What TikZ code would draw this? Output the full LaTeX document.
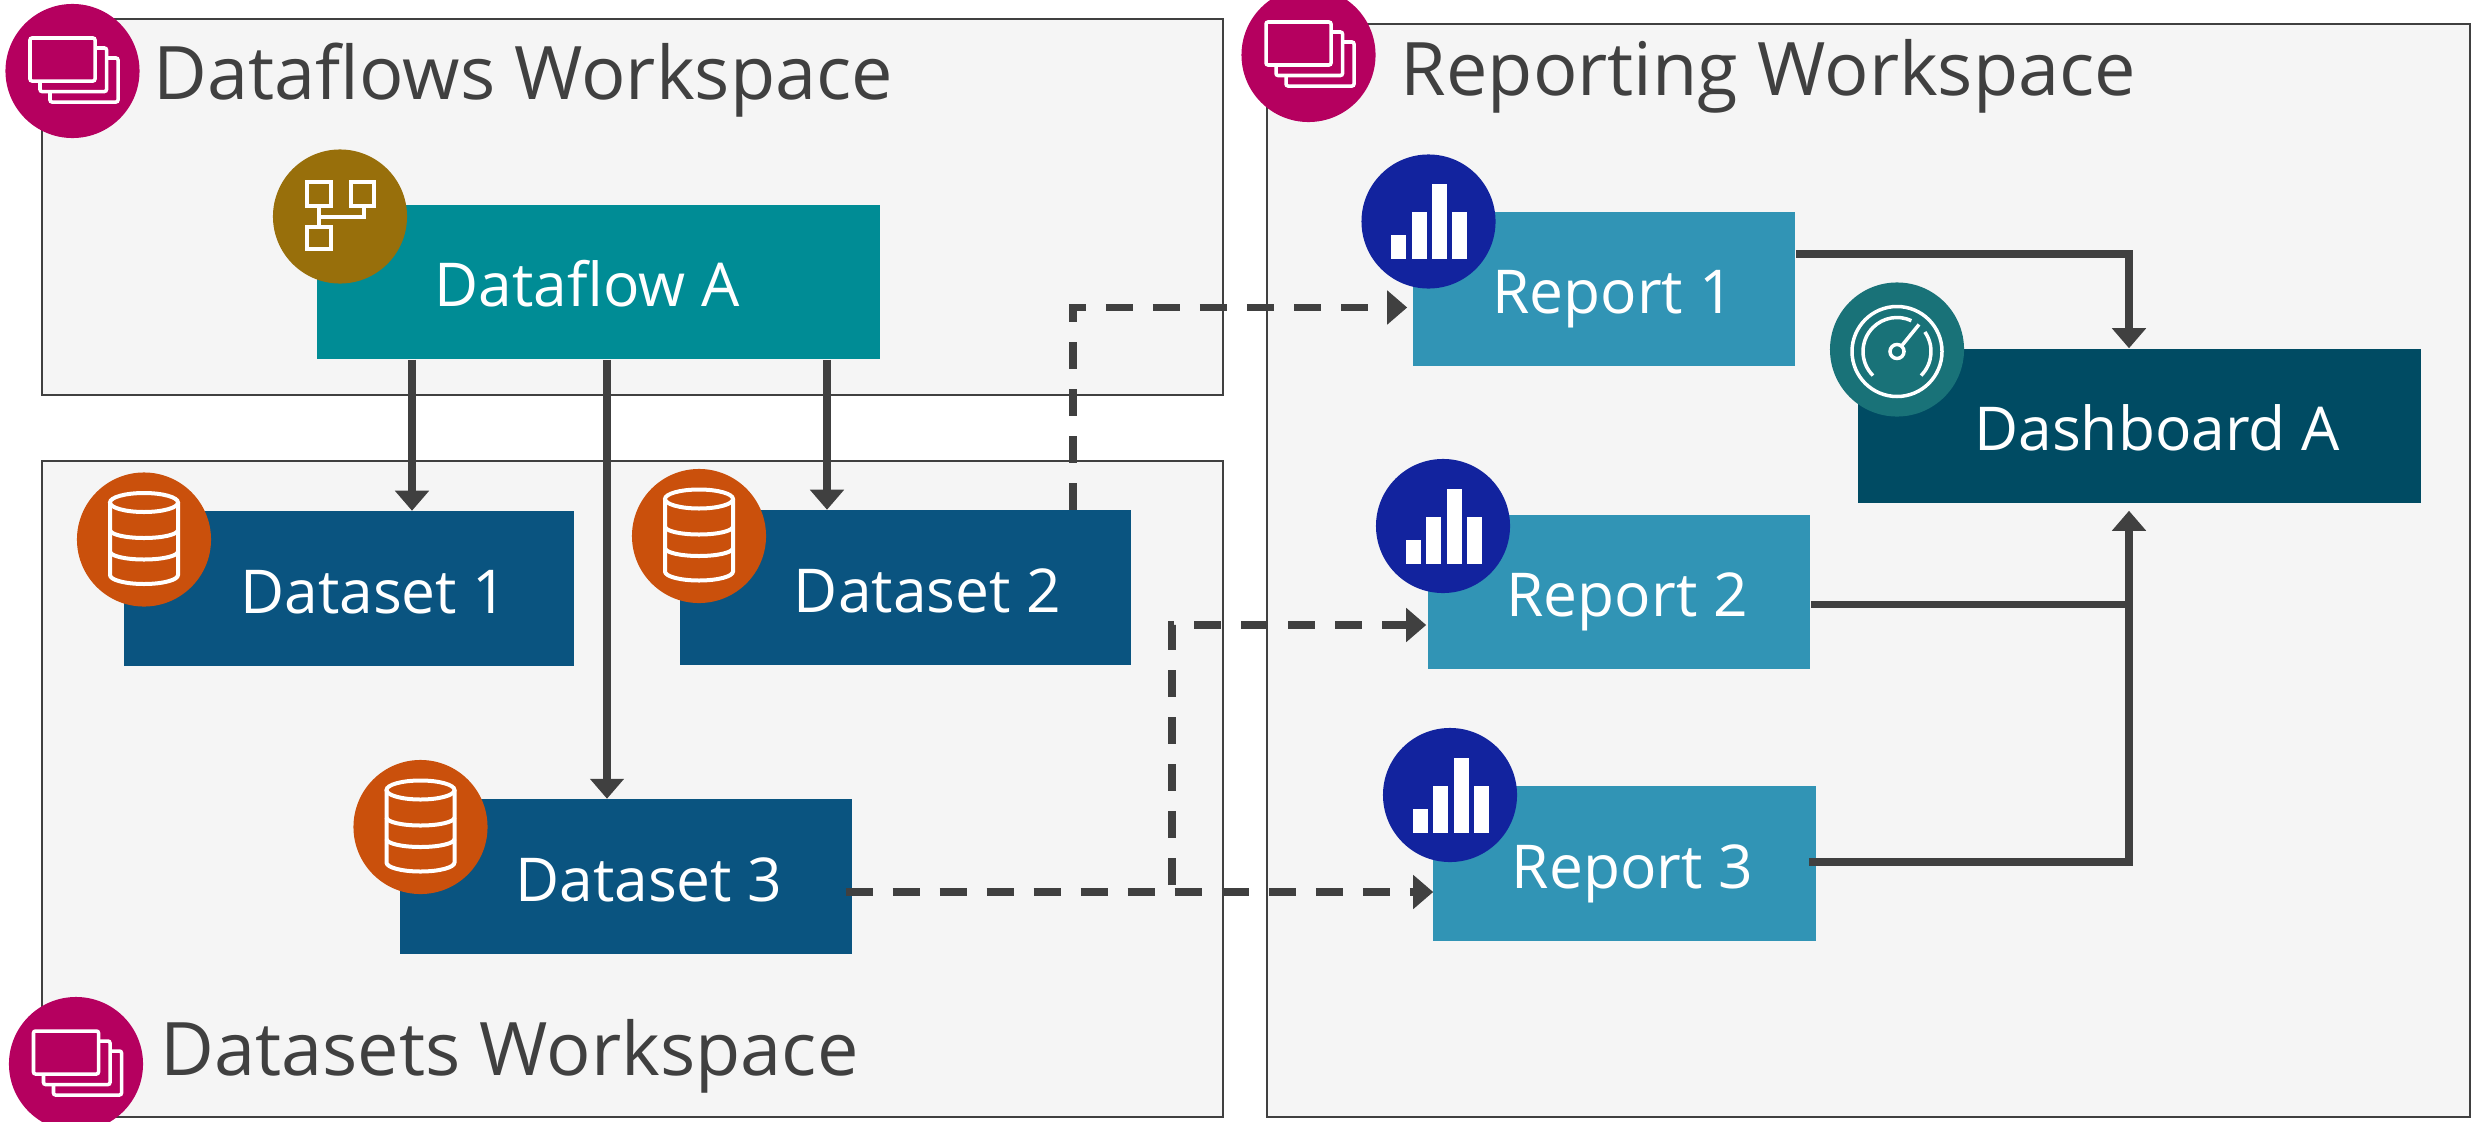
\documentclass[tikz,border=0pt]{standalone}
\usepackage{fontspec}
\setmainfont{Open Sans}
\usetikzlibrary{arrows.meta}
\definecolor{framefill}{HTML}{F5F5F5}
\definecolor{inkgrey}{HTML}{404040}
\definecolor{wscolor}{HTML}{B5005F}
\definecolor{dfcolor}{HTML}{008C95}
\definecolor{dficon}{HTML}{986F0B}
\definecolor{dscolor}{HTML}{0A5480}
\definecolor{dsicon}{HTML}{CA500C}
\definecolor{rpcolor}{HTML}{3194B5}
\definecolor{rpicon}{HTML}{12239E}
\definecolor{dbcolor}{HTML}{004B63}
\definecolor{dbicon}{HTML}{197278}
\tikzset{
  wsframe/.style={draw=inkgrey, fill=framefill, line width=0.02cm, inner sep=0},
  wstitle/.style={anchor=base west, inner sep=0, text=inkgrey, font=\fontsize{21}{26}\selectfont},
  card/.style={inner sep=0, minimum width=#1, minimum height=1.54cm, text=white,
    text height=14pt, text depth=0pt, font=\fontsize{17.2}{21}\selectfont},
  badge/.style={circle, inner sep=0, minimum size=1.34cm},
  flow/.style={draw=inkgrey, line width=0.072cm},
  flowarrow/.style={flow, -{Triangle[length=0.2cm, width=0.33cm]}},
  feed/.style={flowarrow, dash pattern=on 0.27cm off 0.2cm},
  glyph/.style={draw=white, line width=0.035cm},
  pics/stackicon/.style={code={
    \foreach \d in {20,10,0}
      \draw[glyph, fill=wscolor, rounded corners=0.02cm] (-42.5+\d,-33+\d) rectangle (22.5+\d+\d*0.15,10+\d+\d*0.05);
  }},
  pics/flowicon/.style={code={
    \draw[glyph] (-33,-34.5) rectangle (-9,-10.5);
    \draw[glyph] (11,-34.5) rectangle (34,-10.5);
    \draw[glyph] (-33,10.5) rectangle (-9,32.5);
    \draw[glyph] (-21,-10.5) -- (-21,10.5);
    \draw[glyph] (-21,0.5) -- (24,0.5) -- (24,-10.5);
  }},
  pics/stackdb/.style={code={
    \draw[glyph, line width=0.04cm] (0,-37) ellipse (34 and 9.5);
    \draw[glyph, line width=0.04cm] (-34,-37) -- (-34,35.5) arc[start angle=180, end angle=0, x radius=34, y radius=9] -- (34,-37);
    \draw[glyph, line width=0.04cm] (-34,-9.5) arc[start angle=180, end angle=0, x radius=34, y radius=8];
    \draw[glyph, line width=0.04cm] (-34,12) arc[start angle=180, end angle=0, x radius=34, y radius=8];
  }},
  pics/baricon/.style={code={
    \foreach \l/\t in {-37.5/13.5,-17/-9.5,3.5/-37.5,23.5/-9.5}
      \fill[white] (\l,\t) rectangle (\l+15,37.5);
  }},
  pics/gaugeicon/.style={code={
    \draw[glyph] (0,2) circle (45);
    \draw[glyph] (-225:34) ++(0,2) arc[start angle=-225, end angle=-65, radius=34];
    \draw[glyph] (-35:34) ++(0,2) arc[start angle=-35, end angle=45, radius=34];
    \draw[glyph] (0,2) circle (7);
    \draw[glyph] (4.5,-3.5) -- (22,-25);
  }}
}
\begin{document}
\begin{tikzpicture}[x=0.01cm, y=-0.01cm]
    \useasboundingbox (0,0) rectangle (2479,1121);
    \clip (0,0) rectangle (2479,1121);

    % workspaces
    \node[wsframe, minimum width=11.81cm, minimum height=3.76cm] (dataflows) at (632.5,207) {};
    \node[wsframe, minimum width=11.81cm, minimum height=6.56cm] (datasets) at (632.5,789) {};
    \node[wsframe, minimum width=12.03cm, minimum height=10.93cm] (reporting) at (1868.5,570.5) {};

    \node[wstitle] (dataflowstitle) at (153,99) {Dataflows Workspace};
    \node[wstitle] (reportingtitle) at (1400,95) {Reporting Workspace};
    \node[wstitle] (datasetstitle) at (160,1075) {Datasets Workspace};

    % cards
    \node[card=5.63cm, fill=dfcolor] (dataflow) at (598.5,282) {\hspace*{-0.23cm}Dataflow A};
    \node[card=4.5cm, fill=dscolor] (dataset1) at (349,588.5) {\hspace*{0.5cm}Dataset 1};
    \node[card=4.51cm, fill=dscolor] (dataset2) at (905.5,587.5) {\hspace*{0.44cm}Dataset 2};
    \node[card=4.52cm, fill=dscolor] (dataset3) at (626,876.5) {\hspace*{0.46cm}Dataset 3};
    \node[card=3.82cm, fill=rpcolor] (report1) at (1604,289) {\hspace*{0.18cm}Report 1};
    \node[card=3.82cm, fill=rpcolor] (report2) at (1619,592) {\hspace*{0.16cm}Report 2};
    \node[card=3.83cm, fill=rpcolor] (report3) at (1624.5,863.5) {\hspace*{0.16cm}Report 3};
    \node[card=5.63cm, fill=dbcolor] (dashboard) at (2139.5,426) {\hspace*{0.35cm}Dashboard A};

    % badges
    \node[badge, fill=wscolor] (dataflowsbadge) at (72.5,71) {};
    \node[badge, fill=wscolor] (reportingbadge) at (1308.5,55) {};
    \node[badge, fill=wscolor] (datasetsbadge) at (76,1064) {};
    \pic at (dataflowsbadge) {stackicon};
    \pic at (reportingbadge) {stackicon};
    \pic at (datasetsbadge) {stackicon};

    \node[badge, fill=dficon] (dataflowbadge) at (340,216.5) {};
    \pic at (dataflowbadge) {flowicon};

    \node[badge, fill=dsicon] (dataset1badge) at (144,539.5) {};
    \node[badge, fill=dsicon] (dataset2badge) at (699,536) {};
    \node[badge, fill=dsicon] (dataset3badge) at (420.5,827) {};
    \pic at (dataset1badge) {stackdb};
    \pic at (dataset2badge) {stackdb};
    \pic at (dataset3badge) {stackdb};

    \node[badge, fill=rpicon] (report1badge) at (1428.5,221.5) {};
    \node[badge, fill=rpicon] (report2badge) at (1443,526) {};
    \node[badge, fill=rpicon] (report3badge) at (1450,795) {};
    \pic at (report1badge) {baricon};
    \pic at (report2badge) {baricon};
    \pic at (report3badge) {baricon};

    \node[badge, fill=dbicon] (dashboardbadge) at (1897,349.5) {};
    \pic at (dashboardbadge) {gaugeicon};

    % tap points
    \coordinate (tap1) at (412,0);
    \coordinate (tap3) at (607,0);
    \coordinate (tap2) at (827,0);
    \coordinate (up2) at (1073,307.5);
    \coordinate (feed3) at (845.5,892);
    \coordinate (branch2) at (1172,625);
    \coordinate (out1) at (2129,254);
    \coordinate (out2) at (2129,604.5);
    \coordinate (out3) at (2129,862);

    % dataflow to datasets
    \draw[flowarrow] (dataflow.south -| tap1) -- (dataset1.north -| tap1);
    \draw[flowarrow] (dataflow.south -| tap2) -- (dataset2.north -| tap2);
    \draw[flowarrow] (dataflow.south -| tap3) -- (dataset3.north -| tap3);

    % datasets to reports
    \draw[feed, shorten >=0.05cm] (dataset2.north -| up2) |- (report1.west |- up2);
    \draw[feed] (feed3) -- ([xshift=0.01cm]report3.west |- feed3);
    \draw[feed] (branch2 |- 0,885) |- ([xshift=-0.01cm]report2.west |- branch2);

    % reports to dashboard
    \draw[flowarrow] (report1.east |- out1) -| (dashboard.north -| out1);
    \draw[flow] (report2.east |- out2) -- (out2);
    \draw[flowarrow, shorten >=0.07cm] ([xshift=-0.08cm]report3.east |- out3) -| (dashboard.south -| out3);
\end{tikzpicture}
\end{document}
